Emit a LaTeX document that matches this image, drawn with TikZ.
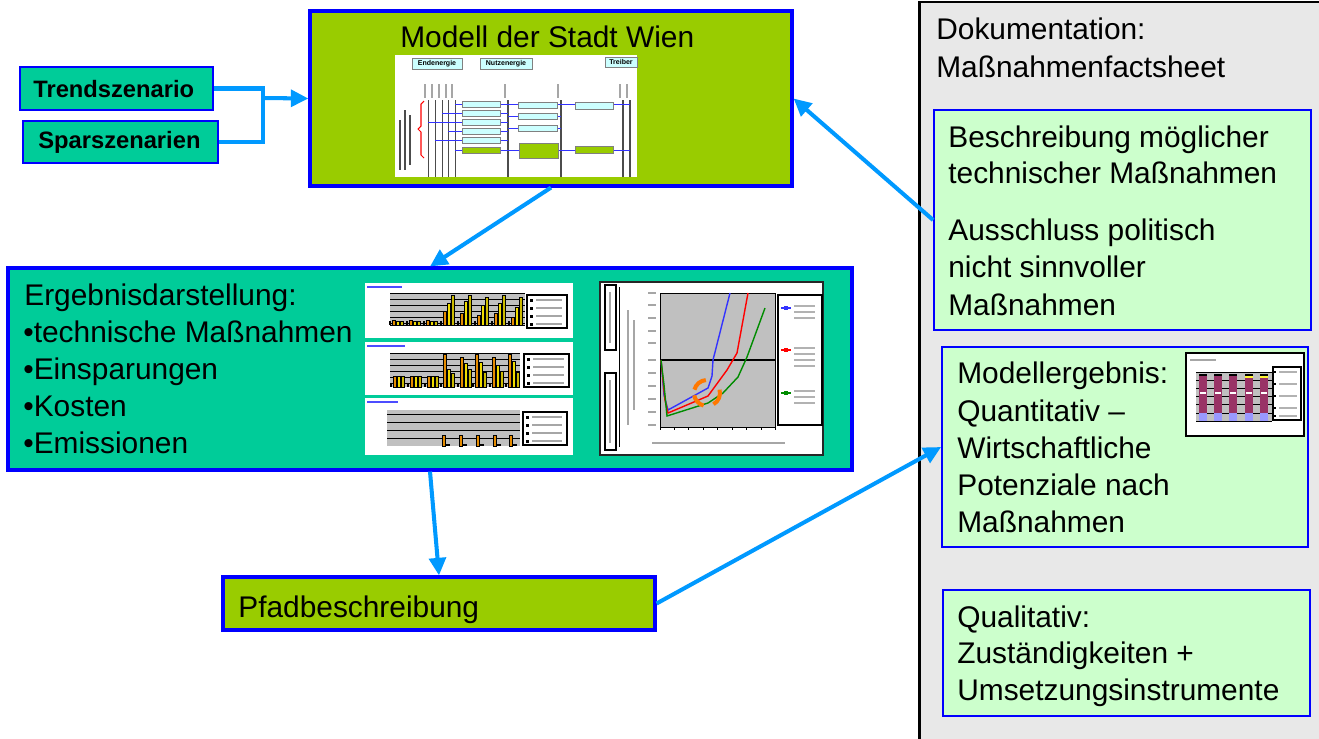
\documentclass[tikz,border=0pt]{standalone}
\usepackage{fontspec}
\setmainfont{Liberation Sans}
\usetikzlibrary{arrows.meta,fit,calc}
\definecolor{cTeal}{RGB}{0,204,153}
\definecolor{cLime}{RGB}{153,204,0}
\definecolor{cArrow}{RGB}{0,153,255}
\definecolor{cBorder}{RGB}{0,0,255}
\definecolor{cMint}{RGB}{204,255,204}
\definecolor{cPanel}{RGB}{232,232,232}
\definecolor{cCyan}{RGB}{204,255,255}
\definecolor{cPlot}{RGB}{192,192,192}
\definecolor{cOrange}{RGB}{230,140,0}
\definecolor{cYellow}{RGB}{240,220,0}
\definecolor{cMaroon}{RGB}{153,51,102}
\definecolor{cLav}{RGB}{153,153,255}
\definecolor{cFlame}{RGB}{255,120,0}
\begin{document}
\begin{tikzpicture}[x=0.02cm,y=-0.02cm,
  box/.style={inner sep=0pt, draw=cBorder},
  big/.style={font=\fontsize{17}{21}\selectfont, inner sep=0pt, anchor=base west},
  small/.style={font=\fontsize{13.5}{16}\selectfont\bfseries, inner sep=0pt, anchor=base west},
  link/.style={draw=cArrow, line width=2.3pt, line join=miter},
  conn/.style={link, -{Triangle[length=10pt,width=9.5pt]}},
  hdr/.style={draw=gray, fill=cCyan, inner sep=0pt, line width=0.4pt, font=\fontsize{4}{4}\selectfont\bfseries},
  mini/.style={draw=gray, fill=cCyan, line width=0.3pt},
  minig/.style={draw=gray, fill=cLime, line width=0.3pt},
  bl/.style={draw=blue!80, line width=0.5pt},
  bar/.style={draw=black, line width=0.25pt},
]
\useasboundingbox (0,0) rectangle (1319,738);
\fill[white] (0,0) rectangle (1319,738);

% ---------- right documentation panel ----------
\node[fit={(919,2)(1340,750)}, inner sep=0pt, fill=cPanel, draw=black, line width=1.7pt] (Doku) {};
\node[fit={(934,110)(1311,330)}, box, fill=cMint, line width=1pt] (Beschr) {};
\node[fit={(942,347)(1308,547)}, box, fill=cMint, line width=1pt] (Ergeb) {};
\node[fit={(943,590)(1310,716)}, box, fill=cMint, line width=1pt] (Quali) {};

% ---------- left boxes ----------
\node[fit={(20,67)(213,110)}, box, fill=cTeal, line width=1.2pt] (Trend) {};
\node[fit={(23,121)(218,163)}, box, fill=cTeal, line width=1.2pt] (Spars) {};
\node[fit={(310,11)(792,186)}, box, fill=cLime, line width=1.8pt] (Modell) {};
\node[fit={(8,268)(852,470)}, box, fill=cTeal, line width=1.8pt] (Ergebnis) {};
\node[fit={(223,577)(655,630)}, box, fill=cLime, line width=1.8pt] (Pfad) {};

% ---------- model picture ----------
\fill[white] (395,55) rectangle (637,177);
\node[hdr, minimum width=1cm, minimum height=0.22cm] (hE) at (437,63.5) {Endenergie};
\node[hdr, minimum width=1.04cm, minimum height=0.22cm] (hN) at (506,63.5) {Nutzenergie};
\node[hdr, minimum width=0.64cm, minimum height=0.2cm] (hT) at (621,62) {Treiber};
\foreach \x in {428,435,442,448,455} \draw[black!70, line width=0.5pt] (\x,100) -- (\x,177);
\foreach \x in {508,561,623,630} \draw[black!70, line width=0.6pt] (\x,100) -- (\x,177);
\foreach \x in {425,432,439,446,452} \draw[gray!70, line width=1pt] (\x,84) -- (\x,98);
\foreach \x in {505,558,620,627} \draw[gray!70, line width=1pt] (\x,84) -- (\x,98);
\draw[gray!60!black, line width=1.2pt] (400,120) -- (400,170);
\draw[gray!60!black, line width=1.2pt] (405,110) -- (405,170);
\draw[gray!60!black, line width=1.2pt] (410,115) -- (410,165);
\draw[red, line width=0.6pt] (424,101) -- (421,104) -- (421,126) -- (418,129) -- (421,132) -- (421,155) -- (424,158);
\draw[bl] (455,104) -- (630,104);
\draw[bl] (442,113) -- (508,113);
\draw[bl] (508,116) -- (561,116);
\draw[bl] (428,122) -- (508,122);
\draw[bl] (448,131) -- (508,131);
\draw[bl] (508,128) -- (561,128);
\draw[bl] (435,140) -- (508,140);
\draw[bl] (455,150) -- (630,150);
\foreach \y in {101,110,119,128,137} \draw[mini] (462,\y) rectangle (500,\y+6);
\draw[minig] (462,147) rectangle (500,153);
\foreach \y in {102,113,125} \draw[mini] (518,\y) rectangle (557,\y+6);
\draw[minig] (519,143) rectangle (558,158);
\draw[mini] (575,102) rectangle (613,109);
\draw[minig] (575,146) rectangle (613,153);

% ---------- bar chart 1 ----------
\fill[white] (365,283) rectangle (573,338);
\draw[blue!70, line width=1pt] (367,287) -- (402,287);
\fill[cPlot] (390,293) rectangle (525,325);
\foreach \y in {293,299,305,311,317,323} \draw[black, line width=0.3pt] (390,\y) -- (525,\y);
\foreach \gx/\ha/\hb/\hc in {397/5/4/4,414/5/4/4,431/5/4/4,448/14/22/30,465/12/24/30,482/10/20/28,499/12/22/30,516/8/18/28}{
  \fill[black] (\gx-8,325) rectangle (\gx-6,321);
  \filldraw[bar, fill=cOrange] (\gx-5,325) rectangle (\gx-2,325-\ha);
  \filldraw[bar, fill=cYellow] (\gx-1,325) rectangle (\gx+2,325-\hb);
  \filldraw[bar, fill=cYellow!85!black] (\gx+3,325) rectangle (\gx+6,325-\hc);
}
\draw[line width=0.3pt] (390,325) -- (525,325);
\draw[fill=white, line width=0.6pt] (527,295) rectangle (567,328);
\foreach \y in {300,308,316,324}{\fill (530,\y-1.5) rectangle (533,\y+1.5); \draw[gray!70, line width=0.8pt] (536,\y) -- (562,\y);}

% ---------- bar chart 2 ----------
\fill[white] (365,342) rectangle (573,395);
\draw[blue!70, line width=1pt] (367,346) -- (405,346);
\fill[cPlot] (390,353) rectangle (520,387);
\foreach \y in {353,359,365,371,377,383} \draw[black, line width=0.3pt] (390,\y) -- (520,\y);
\foreach \gx/\ha/\hb/\hc in {398/11/11/11,415/11/11/11,432/11/11/11,448/33/18/14,465/30/24/18,480/33/25/15,497/30/22/16,513/33/26/15}{
  \fill[black] (\gx-8,387) rectangle (\gx-6,383);
  \filldraw[bar, fill=cOrange] (\gx-5,387) rectangle (\gx-2,387-\ha);
  \filldraw[bar, fill=cYellow] (\gx-1,387) rectangle (\gx+2,387-\hb);
  \filldraw[bar, fill=cYellow!85!black] (\gx+3,387) rectangle (\gx+6,387-\hc);
}
\draw[fill=white, line width=0.6pt] (524,354) rectangle (569,387);
\foreach \y in {359,367,375,383}{\fill (527,\y-1.5) rectangle (530,\y+1.5); \draw[gray!70, line width=0.8pt] (533,\y) -- (564,\y);}

% ---------- bar chart 3 ----------
\fill[white] (365,398) rectangle (573,455);
\draw[blue!70, line width=1pt] (367,402) -- (398,402);
\fill[cPlot] (387,410) rectangle (520,446);
\foreach \y in {414,422,430,438} \draw[black, line width=0.4pt] (387,\y) -- (520,\y);
\foreach \gx in {444,461,478,495,511}{
  \filldraw[bar, fill=cOrange] (\gx-2,446) rectangle (\gx+1,435);
  \fill[black] (\gx+2,446) rectangle (\gx+6,444);
}
\draw[fill=white, line width=0.6pt] (523,412) rectangle (567,445);
\foreach \y in {417,425,433,441}{\fill (526,\y-1.5) rectangle (529,\y+1.5); \draw[gray!70, line width=0.8pt] (532,\y) -- (562,\y);}

% ---------- cost curve chart ----------
\draw[fill=white, draw=black!85, line width=1.3pt] (600,282) rectangle (823,455);
\draw[fill=white, line width=0.6pt] (605,285) rectangle (616,350);
\draw[fill=white, line width=0.6pt] (605,373) rectangle (616,450);
\draw[line width=0.5pt] (619,287) -- (619,447);
\draw[gray!70, line width=0.8pt] (610,292) -- (610,343);
\draw[gray!70, line width=0.8pt] (610,380) -- (610,443);
\draw[gray!70, line width=1pt] (628,310) -- (628,425);
\draw[gray!70, line width=1pt] (634,320) -- (634,410);
\fill[cPlot] (660,293) rectangle (775,427);
\draw[line width=0.4pt] (660,293) rectangle (775,427);
\foreach \y in {293,305,318,331,343,360,373,386,399,412,425} \draw[gray!70, line width=0.6pt] (648,\y) -- (656,\y);
\foreach \x in {660,674,688,703,717,732,746,761,775} \draw[line width=0.4pt] (\x,427) -- (\x,430);
\draw[gray!70, line width=0.8pt] (652,443) -- (785,443);
\draw[line width=1.1pt] (660,360) -- (775,360);
\draw[blue!80, line width=0.8pt] (661,360) -- (664,395) -- (668,410) -- (708,388) -- (712,376) -- (713,360) -- (730,293);
\draw[red, line width=0.8pt] (661,360) -- (665,400) -- (668,413) -- (708,396) -- (727,370) -- (737,353) -- (748,293);
\draw[green!55!black, line width=0.8pt] (661,360) -- (664,385) -- (667,416) -- (708,403) -- (723,393) -- (738,377) -- (747,357) -- (765,308);
\coordinate (ring) at (707,393);
\draw[cFlame, line width=2.3pt] ($(ring)+(-165:13)$) arc[start angle=-165, end angle=-95, radius=13];
\draw[cFlame, line width=2.3pt] ($(ring)+(105:13)$) arc[start angle=105, end angle=170, radius=13];
\draw[cFlame, line width=2.3pt] ($(ring)+(-15:13)$) arc[start angle=-15, end angle=60, radius=13];
\draw[fill=white, line width=1pt] (778,295) rectangle (822,425);
\draw[blue!80, line width=0.8pt] (781,308) -- (791,308); \fill[blue!80] (784,306) rectangle (788,310);
\draw[red, line width=0.8pt] (781,350) -- (791,350); \fill[red] (784,348) rectangle (788,352);
\draw[green!55!black, line width=0.8pt] (781,393) -- (791,393); \fill[green!55!black] (784,391) rectangle (788,395);
\foreach \y in {306,312,318,348,354,360,366,391,397,403} \draw[gray!60, line width=0.7pt] (794,\y) -- (815,\y);

% ---------- small chart in Modellergebnis ----------
\draw[fill=white, line width=0.8pt] (1186,353) rectangle (1304,436);
\draw[gray!70, line width=0.8pt] (1190,360) -- (1216,360);
\fill[cPlot] (1196,372) rectangle (1272,421);
\foreach \y in {372,380,388,396,404,413,421} \draw[black, line width=0.3pt] (1196,\y) -- (1272,\y);
\foreach \bx in {1203,1218,1233,1249,1264}{
  \fill[cMaroon] (\bx-4,376) rectangle (\bx+4,413);
  \fill[cLav] (\bx-4,413) rectangle (\bx+4,421);
  \fill[black] (\bx-4,374) rectangle (\bx+4,376);
  \fill[white] (\bx-3,392) rectangle (\bx+3,393.5);
}
\fill[yellow!80] (1245,376) rectangle (1253,378);
\fill[yellow!80] (1260,376) rectangle (1268,378);
\draw[fill=white, line width=0.6pt] (1273,367) rectangle (1301,420);
\foreach \y in {372,384,396,408,416} {\fill (1274,\y-1) rectangle (1276,\y+1); \draw[gray!60, line width=0.6pt] (1279,\y) -- (1297,\y);}

% ---------- texts ----------
\node[small] (tTrend) at (33,97) {Trendszenario};
\node[small] (tSpars) at (38,148) {Sparszenarien};
\node[big] (tModell) at (400,47) {Modell der Stadt Wien};
\node[big] (e1) at (24,305) {Ergebnisdarstellung:};
\node[big] (e2) at (23,342) {•technische Maßnahmen};
\node[big] (e3) at (23,379) {•Einsparungen};
\node[big] (e4) at (23,416) {•Kosten};
\node[big] (e5) at (23,453) {•Emissionen};
\node[big] (tPfad) at (238,617) {Pfadbeschreibung};
\node[big] (d1) at (936,39) {Dokumentation:};
\node[big] (d2) at (936,77) {Maßnahmenfactsheet};
\node[big] (b1) at (948,147) {Beschreibung möglicher};
\node[big] (b2) at (948,183) {technischer Maßnahmen};
\node[big] (b3) at (948,240) {Ausschluss politisch};
\node[big] (b4) at (948,277) {nicht sinnvoller};
\node[big] (b5) at (948,315) {Maßnahmen};
\node[big] (m1) at (957,383) {Modellergebnis:};
\node[big] (m2) at (957,421) {Quantitativ –};
\node[big] (m3) at (957,458) {Wirtschaftliche};
\node[big] (m4) at (957,495) {Potenziale nach};
\node[big] (m5) at (957,532) {Maßnahmen};
\node[big] (q1) at (957,627) {Qualitativ:};
\node[big] (q2) at (957,663) {Zuständigkeiten +};
\node[big] (q3) at (957,700) {Umsetzungsinstrumente};

% ---------- connectors ----------
\coordinate (J) at (263,98);
\draw[link] (Trend.east) -- (Trend.east -| J) -- (Spars.east -| J) -- (Spars.east);
\draw[conn] (J) -- (Modell.west);
\draw[conn] (Modell.south) -- (Ergebnis.north);
\draw[conn] (Ergebnis.south) -- (Pfad.north);
\draw[conn] (Pfad.east) -- (Ergeb.west);
\draw[conn] (Beschr.west) -- (Modell.east);
\end{tikzpicture}
\end{document}
